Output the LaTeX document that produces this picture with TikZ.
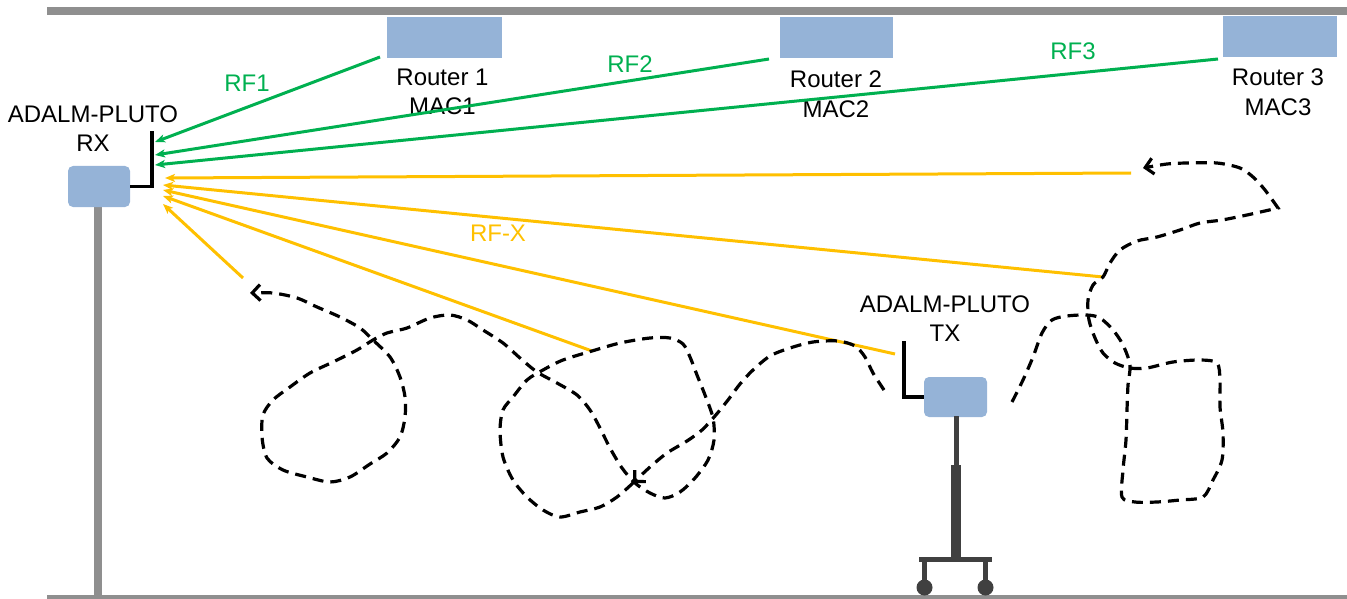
\documentclass[tikz,border=0pt]{standalone}
\usepackage{fontspec}
\setmainfont{Liberation Sans}
\usetikzlibrary{arrows.meta}
\definecolor{wallgray}{HTML}{8F8F8F}
\definecolor{boxblue}{HTML}{95B3D7}
\definecolor{rfgreen}{HTML}{00B050}
\definecolor{rforange}{HTML}{FFC000}
\definecolor{cartgray}{HTML}{404040}
\begin{document}
\begin{tikzpicture}[x=1pt,y=-1pt,
  lbl/.style={font=\fontsize{24}{29.5}\selectfont, align=center, inner sep=0pt},
  router/.style={fill=boxblue, inner sep=0pt, minimum height=41pt},
  device/.style={fill=boxblue, inner sep=0pt, rounded corners=5pt},
  antenna/.style={draw=black, line width=3.2pt},
  garrow/.style={draw=rfgreen, line width=3pt, -{Stealth[length=10pt,width=8pt,inset=2.5pt]}},
  oarrow/.style={draw=rforange, line width=3pt, -{Stealth[length=10pt,width=8pt,inset=2.5pt]}},
  walk/.style={draw=black, line width=3.2pt, dash pattern=on 11pt off 7pt},
  walkarrow/.style={walk, -{Straight Barb[length=8pt,width=16pt]}}
]
\useasboundingbox (0,0) rectangle (1347,599);
\clip (0,0) rectangle (1347,599);
% walls
\fill[wallgray] (47,7) rectangle (1347,15);
\fill[wallgray] (47,595) rectangle (1347,603);
\fill[wallgray] (94,200) rectangle (102,596);
% routers
\node[router, minimum width=115pt] (r1) at (444.5,37.5) {};
\node[router, minimum width=113pt] (r2) at (836.5,37.5) {};
\node[router, minimum width=114pt] (r3) at (1280,37) {};
% devices
\node[device, minimum width=62pt, minimum height=41pt] (rx) at (99,186.5) {};
\node[device, minimum width=63pt, minimum height=40pt] (tx) at (955.5,397) {};
% cart
\fill[cartgray] (954.3,416) rectangle (959,466);
\fill[cartgray] (951,465) rectangle (961,558);
\fill[cartgray] (919,557) rectangle (992,562);
\fill[cartgray] (922,560) rectangle (927,585);
\fill[cartgray] (983,560) rectangle (988,585);
\fill[cartgray] (924.5,587.5) circle[radius=8pt];
\fill[cartgray] (985.5,587.5) circle[radius=8pt];
% antennas
\coordinate (rxtop) at (152,131);
\coordinate (txtop) at (904,341);
\draw[antenna] (rx.east) -| (rxtop);
\draw[antenna] (tx.west) -| (txtop);
% labels
\node[lbl] (rxlbl) at (93,128.5) {ADALM-PLUTO\\RX};
\node[lbl] (txlbl) at (945,318.5) {ADALM-PLUTO\\TX};
\node[lbl] (r1lbl) at (442.5,92) {Router 1\\MAC1};
\node[lbl] (r2lbl) at (836,94) {Router 2\\MAC2};
\node[lbl] (r3lbl) at (1278,92) {Router 3\\MAC3};
\node[lbl, text=rfgreen] (rf1) at (247,83) {RF1};
\node[lbl, text=rfgreen] (rf2) at (630,64) {RF2};
\node[lbl, text=rfgreen] (rf3) at (1073,51) {RF3};
\node[lbl, text=rforange] (rfx) at (498,233) {RF-X};
% green links
\coordinate (g1) at (380,57);
\coordinate (g2) at (769,59);
\coordinate (g3) at (1218,59);
\coordinate (rg1) at (155,142);
\coordinate (rg2) at (155,155);
\coordinate (rg3) at (155,165);
\draw[garrow] (g1) -- (rg1);
\draw[garrow] (g2) -- (rg2);
\draw[garrow] (g3) -- (rg3);
% orange links
\coordinate (o1) at (1131,173);
\coordinate (o2) at (1103,277);
\coordinate (o3) at (895,354);
\coordinate (o4) at (592,351);
\coordinate (o5) at (243,278);
\coordinate (ro1) at (165,178);
\coordinate (ro2) at (163,185);
\coordinate (ro3) at (163,190);
\coordinate (ro4) at (163,196);
\coordinate (ro5) at (163,204);
\draw[oarrow] (o1) -- (ro1);
\draw[oarrow] (o2) -- (ro2);
\draw[oarrow] (o3) -- (ro3);
\draw[oarrow] (o4) -- (ro4);
\draw[oarrow] (o5) -- (ro5);
% walking paths
\draw[walkarrow] plot[smooth] coordinates {(884,390) (873,373) (865,357) (855,346) (838,341) (813,342) (790,348) (770,356) (753,370) (740,384) (728,400) (715,416) (702,430) (687,441) (667,453) (650,467) (633,483)};
\draw[walkarrow] plot[smooth] coordinates {(633,483) (617,497) (600,507) (580,512) (560,517) (543,510) (527,497) (513,480) (503,457) (500,430) (503,410) (513,397) (527,380) (543,370) (563,360) (592,351) (620,343) (650,338) (670,338) (683,344) (690,357) (697,375) (705,395) (713,418) (714,440) (708,460) (695,478) (680,492) (665,498) (650,493) (635,483) (622,468) (610,448) (600,428) (590,410) (577,395) (557,383) (537,372) (520,358) (503,343) (483,330) (467,320) (450,315) (430,318) (407,328) (387,333) (373,340) (357,350) (333,362) (310,373) (290,387) (273,400) (263,415) (262,437) (267,458) (283,470) (307,477) (330,482) (350,477) (370,464) (387,453) (400,437) (405,417) (405,397) (400,377) (390,357) (373,340) (360,328) (340,317) (317,307) (297,298) (273,293) (250,293)};
\draw[walkarrow] plot[smooth] coordinates {(1012,402) (1023,380) (1033,357) (1042,333) (1052,320) (1067,316) (1087,315) (1100,318) (1113,330) (1123,345) (1130,365) (1128,385) (1127,410) (1126,440) (1123,470) (1122,497) (1135,502) (1157,502) (1180,500) (1203,497) (1213,480) (1222,460) (1223,433) (1220,407) (1220,380) (1217,363) (1200,360) (1173,362) (1147,368) (1130,368) (1115,363) (1103,353) (1095,338) (1089,320) (1088,300) (1093,285) (1103,277) (1110,263) (1120,250) (1137,241) (1157,237) (1180,230) (1200,223) (1222,220) (1247,215) (1278,208)} -- plot[smooth] coordinates {(1278,208) (1265,190) (1253,177) (1240,168) (1217,163) (1187,163) (1167,164) (1143,168)};
\end{tikzpicture}
\end{document}
